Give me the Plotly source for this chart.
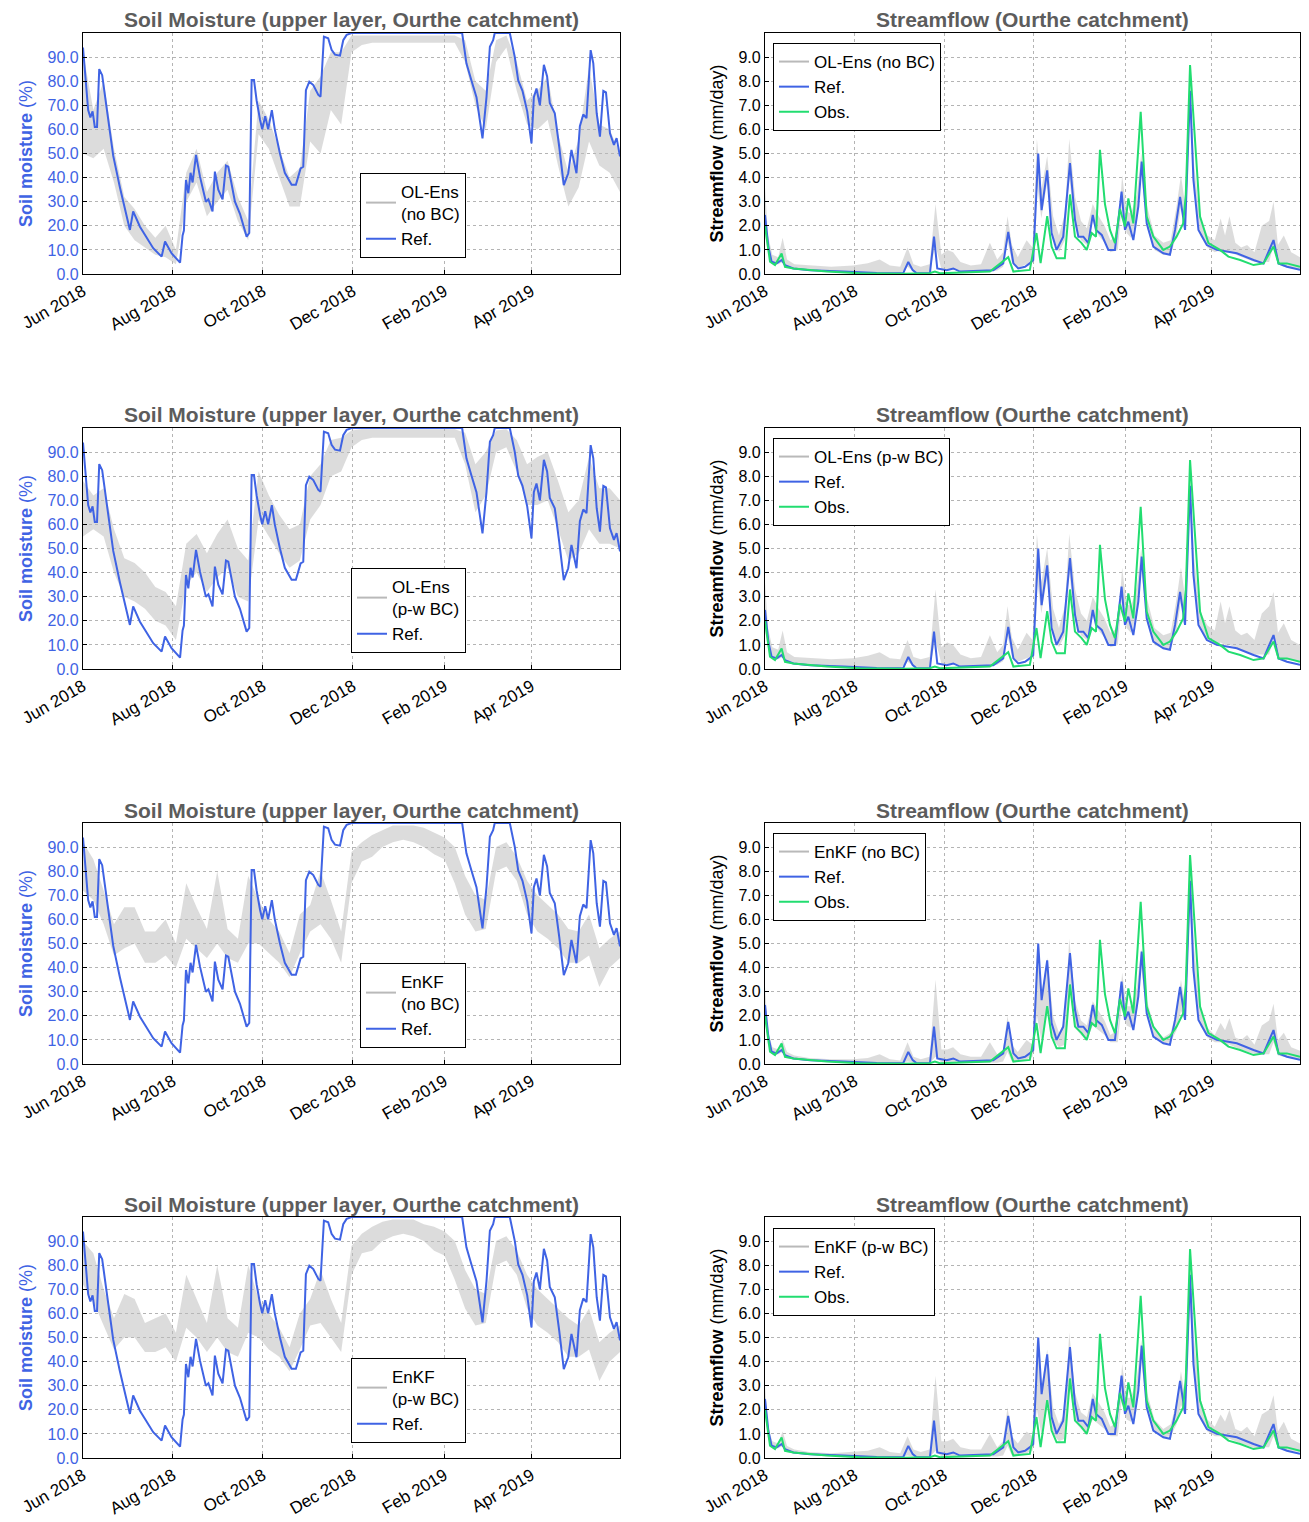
import plotly.graph_objects as go
import pandas as pd

START = pd.Timestamp("2018-06-01")
END = pd.Timestamp("2019-05-31")

# ---------------- Soil moisture: reference (days since 1 Jun 2018, %) ----------------
sm_ref_day = [0, 3.5, 5, 6.5, 8, 9.5, 11, 13, 16, 18, 20.5, 25, 31.8, 34, 38.6, 47.6, 53.3, 55.6, 60, 65.8,
              67.5, 68.4, 69.8, 71.4, 72.9, 74.3, 76.6, 79.3, 83.3, 85, 87.8, 89.4, 91.7, 94.6, 96.9, 98.5,
              103, 106.4, 110.9, 112.7, 114.3, 115.9, 117.7, 120, 121.5, 123.5, 125.5, 128, 130, 133.5,
              136.8, 141.4, 144.3, 145.9, 147.5, 149.3, 151.1, 153.4, 156.1, 159.5, 161, 163.3, 166.2,
              168.5, 170.8, 174.2, 176.4, 178.7, 182, 257, 259.9, 263.3, 266.7, 270.8, 273.5, 275.8, 278,
              279.1, 289.3, 292.7, 295, 297.9, 301.1, 304, 305.6, 307.4, 309.7, 312.4, 314.6, 316.4, 319.8,
              322.8, 325.9, 328.9, 331.1, 334.5, 336.8, 339.1, 341.3, 344.1, 345.9, 348.2, 350.4, 352.7,
              354.5, 357.2, 359.9, 361.7, 364]
sm_ref_val = [94, 68, 65, 67.5, 61, 61, 85, 82.5, 69, 60, 49, 36, 18.3, 26, 19.6, 10.7, 7.2, 13.5, 8.6, 4.7,
              16, 18, 39, 33.5, 42, 38, 49.4, 40.4, 30, 31, 26, 42.5, 35, 31, 45, 44.5,
              30, 25, 15.5, 17, 80.5, 80.5, 72, 64, 60, 65.5, 60, 68, 60, 50,
              42, 37, 37, 40.4, 43.8, 44.5, 76.3, 79.8, 78.4, 74.3, 73.6, 98.5, 97.8,
              93, 91, 90.6, 97, 99.2, 100, 100, 87.4, 80.3, 73.4, 56.3, 73.4, 94.3, 97,
              100, 100, 90, 80.3, 76, 67.5, 54.2, 73.4, 77, 70, 86.8, 82, 71, 66.7,
              52.8, 36.9, 41.8, 51.5, 41.8, 61.3, 66.2, 64.7, 92.9, 87.4, 66.7, 57, 76,
              75.4, 58.4, 53.6, 56.4, 48.8]

# ---------------- Soil moisture ensembles: weekly envelopes ----------------
sm_ens_day = [0, 7, 14, 21, 28, 35, 42, 49, 56, 63, 70, 77, 84, 91, 98, 105, 112, 119, 126, 133,
              140, 147, 154, 161, 168, 175, 182, 189, 196, 203, 210, 217, 224, 231, 238, 245, 252, 259,
              266, 273, 280, 287, 294, 301, 308, 315, 322, 329, 336, 343, 350, 357, 364]
sm_olnobc_lo = [50, 48, 52, 38, 20, 14, 11, 8, 7, 4, 30, 38, 24, 30, 35, 22, 14, 58, 52, 40,
                28, 28, 55, 50, 68, 62, 92, 95, 96, 96, 96, 96, 96, 96, 96, 96, 96, 88, 70, 60,
                88, 94, 76, 62, 60, 64, 45, 28, 36, 55, 45, 42, 34]
sm_olnobc_hi = [92, 68, 80, 52, 32, 27, 20, 15, 20, 10, 42, 52, 34, 42, 47, 32, 22, 72, 64, 52,
                40, 44, 76, 82, 92, 92, 99, 99, 99, 99, 99, 99, 99, 99, 99, 99, 99, 97, 80, 76,
                97, 99, 88, 72, 76, 82, 58, 42, 56, 86, 62, 60, 50]
sm_olpw_lo = [55, 58, 55, 40, 30, 28, 25, 20, 18, 12, 35, 40, 32, 38, 42, 30, 28, 62, 55, 48,
              42, 45, 62, 68, 80, 82, 92, 95, 96, 96, 96, 96, 96, 96, 96, 96, 96, 85, 65, 72,
              90, 92, 82, 68, 68, 70, 58, 45, 48, 58, 52, 52, 50]
sm_olpw_hi = [78, 72, 75, 58, 46, 44, 40, 34, 32, 26, 52, 56, 48, 56, 62, 50, 45, 82, 72, 64,
              58, 60, 80, 85, 95, 96, 99, 99.5, 99.5, 99.5, 99.5, 99.5, 99.5, 99.5, 99.5, 99.5, 99.5, 98, 85, 90,
              99, 99.5, 95, 85, 88, 90, 78, 65, 70, 88, 75, 75, 70]
sm_enkfnobc_lo = [72, 68, 58, 45, 48, 50, 42, 42, 45, 40, 52, 48, 44, 50, 44, 42, 50, 50, 46, 42,
                  36, 46, 55, 58, 52, 42, 75, 84, 86, 90, 92, 93, 92, 90, 87, 85, 75, 62, 55, 56,
                  80, 82, 76, 62, 55, 52, 48, 42, 42, 45, 32, 40, 44]
sm_enkfnobc_hi = [92, 85, 72, 58, 65, 65, 55, 55, 60, 50, 75, 65, 56, 80, 56, 52, 78, 68, 60, 55,
                  46, 62, 66, 80, 68, 55, 88, 92, 95, 97, 99, 99, 99, 98, 96, 94, 90, 78, 70, 68,
                  90, 92, 86, 76, 70, 66, 62, 56, 55, 62, 48, 52, 55]
sm_enkfpw_lo = [72, 65, 55, 45, 50, 50, 44, 44, 46, 40, 54, 50, 44, 50, 44, 42, 52, 50, 45, 42,
                36, 45, 55, 56, 50, 44, 76, 85, 86, 90, 92, 93, 92, 90, 86, 84, 74, 62, 55, 56,
                80, 82, 76, 62, 55, 52, 48, 42, 42, 45, 32, 40, 44]
sm_enkfpw_hi = [90, 85, 70, 58, 68, 66, 56, 58, 60, 52, 76, 66, 56, 80, 58, 54, 80, 66, 60, 54,
                46, 60, 66, 78, 66, 56, 88, 93, 96, 98, 99, 99, 99, 97, 96, 94, 90, 78, 70, 68,
                90, 92, 86, 76, 70, 66, 62, 58, 55, 62, 48, 52, 55]

# ---------------- Streamflow: reference and observation (mm/day) ----------------
sf_ref_day = [0, 2.3, 4.5, 7.9, 11.3, 13.6, 19.3, 30.6, 53.3, 76, 94, 97.5, 100.5, 103.2, 112.2, 115, 117.2,
              123.6, 128.1, 132.7, 155.3, 162.1, 165.5, 169, 172.3, 176.9, 180.3, 182.5, 185.9, 188.2,
              192, 195, 198.4, 202.9, 207.5, 210.9, 213.2, 216.6, 220, 223, 225.2, 229.1, 233.6, 238.1,
              242.6, 244.9, 247.2, 250.6, 254, 256.3, 259.7, 264.2, 271, 275.5, 279, 282.4, 285.8, 288,
              289.2, 291.5, 294.9, 300.6, 307.4, 314.2, 321, 332.4, 339.2, 346, 349.4, 355.1, 364]
sf_ref_val = [2.45, 1.13, 0.51, 0.44, 0.58, 0.37, 0.23, 0.16, 0.1, 0.04, 0.03, 0.5, 0.16, 0.03, 0.03, 1.55, 0.23,
              0.16, 0.23, 0.1, 0.16, 0.44, 1.75, 0.44, 0.23, 0.3, 0.45, 0.58, 5.0, 2.65,
              4.3, 1.7, 1.0, 1.55, 4.6, 2.25, 1.55, 1.55, 1.28, 2.45, 1.83, 1.62, 1.0, 1.0,
              3.42, 1.83, 2.17, 1.41, 2.8, 4.66, 2.1, 1.14, 0.86, 0.8, 1.83, 3.2, 1.83, 5.97,
              7.6, 3.9, 1.83, 1.2, 1.0, 0.93, 0.86, 0.58, 0.44, 1.41, 0.44, 0.3, 0.17]
sf_obs_day = [0, 3.4, 6.8, 11.3, 13.6, 19.3, 42, 64.6, 94, 112, 115.6, 119, 153, 165.5, 169, 180.2, 184.7,
              187.5, 192, 195, 198.4, 204, 207.5, 210.9, 215.4, 218.9, 222.3, 225.2, 227.9, 231.3,
              234.7, 238.1, 241.5, 244.9, 247.2, 250.6, 255.6, 259.7, 264.2, 271, 275.5, 280, 284.5,
              286.3, 289.2, 291.9, 296, 301.7, 309.6, 315.3, 323.3, 332.4, 339.2, 346, 349.4, 355.1, 364]
sf_obs_val = [2.0, 0.51, 0.37, 0.85, 0.3, 0.23, 0.1, 0.03, 0.01, 0.03, 0.1, 0.03, 0.1, 0.7, 0.1, 0.17, 1.7,
              0.45, 2.4, 1.14, 0.65, 0.65, 3.3, 1.55, 1.28, 1.0, 1.7, 1.55, 5.15, 2.9,
              1.83, 1.28, 2.7, 1.97, 3.14, 2.1, 6.73, 2.38, 1.55, 1.0, 1.14, 1.55, 2.1,
              3.3, 8.67, 5.97, 2.38, 1.28, 1.0, 0.72, 0.58, 0.37, 0.44, 1.14, 0.44, 0.44, 0.3]

# ---------------- Streamflow ensembles: envelopes ----------------
sf_ens_day = [0, 2, 5, 9, 12, 15, 20, 30, 45, 60,
              70, 78, 85, 92, 97, 101, 106, 112, 116, 120,
              124, 128, 133, 140, 147, 153, 158, 162, 165, 168,
              172, 178, 182, 185, 188, 192, 196, 200, 204, 207,
              211, 215, 219, 223, 227, 231, 235, 240, 243, 246,
              249, 253, 256, 260, 265, 271, 276, 280, 283, 286,
              289, 292, 296, 301, 306, 310, 313, 316, 320, 324,
              328, 333, 338, 343, 346, 349, 353, 358, 364]
sf_olnobc_lo = [1.6, 0.9, 0.45, 0.4, 0.5, 0.3, 0.2, 0.15, 0.1, 0.08,
                0.06, 0.05, 0.04, 0.03, 0.3, 0.1, 0.05, 0.05, 1.2, 0.2,
                0.15, 0.2, 0.1, 0.08, 0.08, 0.1, 0.15, 0.3, 1.4, 0.5,
                0.25, 0.4, 0.5, 3.8, 2.3, 3.8, 1.5, 0.9, 1.4, 4.0,
                2.0, 1.4, 1.2, 2.2, 1.6, 1.3, 0.9, 1.0, 3.0, 1.7,
                1.5, 2.3, 4.2, 1.9, 1.0, 0.8, 0.8, 1.6, 2.8, 1.8,
                7.0, 3.5, 1.6, 1.1, 0.9, 1.0, 0.9, 0.9, 0.8, 0.7,
                0.6, 0.5, 0.5, 0.5, 1.2, 0.4, 0.3, 0.25, 0.2]
sf_olnobc_hi = [3.6, 1.6, 0.8, 0.7, 1.5, 0.6, 0.4, 0.35, 0.3, 0.35,
                0.45, 0.6, 0.35, 0.3, 1.1, 0.4, 0.3, 0.4, 2.9, 0.8,
                1.0, 0.9, 0.5, 0.35, 0.4, 1.3, 0.6, 0.9, 2.4, 1.2,
                0.7, 1.4, 1.1, 5.6, 3.5, 4.9, 2.4, 1.6, 2.5, 5.6,
                3.2, 2.2, 1.9, 2.9, 2.4, 2.0, 1.4, 1.6, 4.1, 2.6,
                2.5, 3.3, 5.0, 2.8, 1.6, 1.3, 1.4, 2.8, 4.1, 2.8,
                8.2, 4.5, 2.3, 1.6, 1.4, 2.3, 1.6, 2.4, 1.3, 1.1,
                1.2, 0.9, 2.0, 2.2, 3.0, 1.2, 1.6, 0.9, 0.7]
sf_olpw_lo = [1.6, 0.9, 0.45, 0.4, 0.5, 0.3, 0.2, 0.15, 0.12, 0.1,
              0.08, 0.07, 0.05, 0.04, 0.3, 0.12, 0.06, 0.06, 1.2, 0.22,
              0.18, 0.22, 0.12, 0.1, 0.1, 0.12, 0.18, 0.32, 1.4, 0.55,
              0.3, 0.45, 0.55, 3.8, 2.3, 3.8, 1.5, 0.9, 1.4, 4.0,
              2.0, 1.4, 1.2, 2.2, 1.6, 1.3, 0.9, 1.0, 3.0, 1.7,
              1.5, 2.3, 4.2, 1.9, 1.0, 0.85, 0.85, 1.6, 2.8, 1.8,
              7.0, 3.5, 1.7, 1.2, 1.0, 1.1, 1.0, 1.0, 0.9, 0.8,
              0.7, 0.6, 0.6, 0.6, 1.3, 0.5, 0.4, 0.35, 0.3]
sf_olpw_hi = [3.6, 1.7, 0.9, 0.8, 1.6, 0.7, 0.5, 0.45, 0.4, 0.45,
              0.55, 0.7, 0.45, 0.4, 1.2, 0.5, 0.4, 0.5, 3.3, 0.9,
              1.1, 1.0, 0.6, 0.45, 0.5, 1.4, 0.7, 1.0, 2.6, 1.3,
              0.8, 1.5, 1.2, 5.6, 3.6, 5.0, 2.5, 1.7, 2.6, 5.6,
              3.3, 2.3, 2.0, 3.0, 2.5, 2.1, 1.5, 1.7, 4.2, 2.7,
              2.6, 3.4, 5.0, 2.9, 1.7, 1.4, 1.5, 2.9, 4.2, 2.9,
              8.2, 4.6, 2.4, 1.8, 1.6, 2.8, 1.9, 2.6, 1.6, 1.4,
              1.5, 1.2, 2.3, 2.6, 3.2, 1.5, 1.9, 1.2, 1.0]
sf_enkfnobc_lo = [1.8, 0.8, 0.4, 0.4, 0.5, 0.25, 0.2, 0.13, 0.1, 0.05,
                  0.03, 0.03, 0.03, 0.02, 0.1, 0.05, 0.03, 0.03, 0.3, 0.05,
                  0.05, 0.05, 0.05, 0.05, 0.05, 0.05, 0.05, 0.1, 0.5, 0.1,
                  0.1, 0.2, 0.3, 2.0, 1.0, 2.2, 1.0, 0.7, 0.8, 3.2,
                  1.5, 1.2, 1.0, 1.6, 1.4, 1.2, 0.9, 0.9, 2.6, 1.6,
                  1.5, 2.2, 4.0, 2.0, 1.1, 0.85, 0.9, 1.4, 2.2, 1.8,
                  6.5, 3.6, 1.6, 1.1, 0.9, 0.9, 0.8, 0.8, 0.7, 0.6,
                  0.5, 0.4, 0.4, 0.4, 0.9, 0.35, 0.3, 0.25, 0.2]
sf_enkfnobc_hi = [3.2, 1.4, 0.7, 0.6, 1.0, 0.5, 0.35, 0.25, 0.2, 0.2,
                  0.25, 0.4, 0.2, 0.15, 0.9, 0.3, 0.2, 0.3, 3.5, 0.6,
                  0.6, 0.7, 0.4, 0.3, 0.3, 0.9, 0.4, 0.6, 2.0, 0.8,
                  0.5, 1.0, 0.8, 4.8, 2.8, 4.4, 2.0, 1.3, 1.8, 5.2,
                  2.6, 1.8, 1.6, 2.6, 2.2, 1.8, 1.2, 1.4, 3.8, 2.4,
                  2.4, 3.2, 4.8, 2.6, 1.5, 1.1, 1.3, 2.2, 3.5, 2.4,
                  8.4, 4.8, 2.4, 1.5, 1.2, 1.7, 1.4, 1.9, 1.1, 1.0,
                  1.2, 0.8, 1.6, 1.8, 2.5, 1.0, 1.3, 0.7, 0.55]
sf_enkfpw_lo = [1.8, 0.8, 0.4, 0.4, 0.5, 0.25, 0.2, 0.13, 0.1, 0.06,
                0.04, 0.04, 0.03, 0.03, 0.1, 0.05, 0.03, 0.03, 0.3, 0.06,
                0.06, 0.06, 0.05, 0.05, 0.05, 0.06, 0.06, 0.1, 0.5, 0.1,
                0.1, 0.2, 0.3, 2.0, 1.0, 2.2, 1.0, 0.7, 0.8, 3.2,
                1.5, 1.2, 1.0, 1.6, 1.4, 1.2, 0.9, 0.9, 2.6, 1.6,
                1.5, 2.2, 4.0, 2.0, 1.1, 0.85, 0.9, 1.4, 2.2, 1.8,
                6.5, 3.6, 1.6, 1.1, 0.9, 0.9, 0.8, 0.8, 0.7, 0.6,
                0.5, 0.4, 0.45, 0.45, 0.9, 0.4, 0.35, 0.3, 0.25]
sf_enkfpw_hi = [3.0, 1.3, 0.7, 0.6, 1.1, 0.5, 0.35, 0.25, 0.2, 0.25,
                0.3, 0.45, 0.25, 0.2, 0.9, 0.35, 0.25, 0.35, 3.4, 0.7,
                0.7, 0.8, 0.45, 0.35, 0.35, 1.0, 0.45, 0.7, 2.1, 0.9,
                0.6, 1.1, 0.9, 4.9, 2.9, 4.5, 2.1, 1.4, 1.9, 5.2,
                2.7, 1.9, 1.7, 2.7, 2.3, 1.9, 1.3, 1.5, 3.9, 2.5,
                2.5, 3.3, 4.9, 2.7, 1.6, 1.2, 1.4, 2.3, 3.6, 2.5,
                8.4, 4.9, 2.5, 1.6, 1.3, 1.8, 1.5, 2.0, 1.2, 1.1,
                1.3, 0.9, 1.8, 2.0, 2.6, 1.1, 1.5, 0.8, 0.6]

# ---------------- labels ----------------
sm_title = "Soil Moisture (upper layer, Ourthe catchment)"
sf_title = "Streamflow (Ourthe catchment)"
sm_ens_names = ["OL-Ens<br>(no BC)", "OL-Ens<br>(p-w BC)", "EnKF<br>(no BC)", "EnKF<br>(p-w BC)"]
sf_ens_names = ["OL-Ens (no BC)", "OL-Ens (p-w BC)", "EnKF (no BC)", "EnKF (p-w BC)"]
sm_ticks = [0, 10, 20, 30, 40, 50, 60, 70, 80, 90]
sf_ticks = [0, 1, 2, 3, 4, 5, 6, 7, 8, 9]

sm_ens = [(sm_olnobc_lo, sm_olnobc_hi), (sm_olpw_lo, sm_olpw_hi),
          (sm_enkfnobc_lo, sm_enkfnobc_hi), (sm_enkfpw_lo, sm_enkfpw_hi)]
sf_ens = [(sf_olnobc_lo, sf_olnobc_hi), (sf_olpw_lo, sf_olpw_hi),
          (sf_enkfnobc_lo, sf_enkfnobc_hi), (sf_enkfpw_lo, sf_enkfpw_hi)]


def dates(days):
    return [START + pd.Timedelta(days=float(d)) for d in days]


W, H = 1309, 1522
TOPS = [33, 428, 823, 1217]
PH = 241
COLX = [(83, 620), (765, 1300)]
FONT = "Liberation Sans, Arial, Helvetica, sans-serif"
BLUE = "#3f63e4"
GREEN = "#22dd70"
ENS_LINE = "rgba(185,185,185,1)"
FILL = "rgba(185,185,185,0.5)"
TITLE_GRAY = "#5c5c5c"
GRID = "#b4b4b4"

fig = go.Figure()
layout = dict(width=W, height=H, margin=dict(l=0, r=0, t=0, b=0, autoexpand=False),
              paper_bgcolor="white", plot_bgcolor="white",
              font=dict(family=FONT, size=15, color="black"),
              annotations=[])

for r in range(4):
    for c in range(2):
        n = 2 * r + c + 1
        sfx = "" if n == 1 else str(n)
        xa, ya, lg = "x" + sfx, "y" + sfx, "legend" + sfx
        x0, x1 = COLX[c]
        top = TOPS[r]
        ydom = [1 - (top + PH) / H, 1 - top / H]
        if c == 0:
            lo, hi = sm_ens[r]
            ed, name = dates(sm_ens_day), sm_ens_names[r]
        else:
            lo, hi = sf_ens[r]
            ed, name = dates(sf_ens_day), sf_ens_names[r]
        fig.add_trace(go.Scatter(x=ed, y=lo, mode="lines", line=dict(width=0), showlegend=False,
                                 hoverinfo="skip", xaxis=xa, yaxis=ya))
        fig.add_trace(go.Scatter(x=ed, y=hi, mode="lines", line=dict(width=0), fill="tonexty",
                                 fillcolor=FILL, showlegend=False, hoverinfo="skip", xaxis=xa, yaxis=ya))
        fig.add_trace(go.Scatter(x=[None], y=[None], mode="lines", line=dict(color=ENS_LINE, width=2),
                                 name=name, legend=lg, xaxis=xa, yaxis=ya))
        if c == 0:
            fig.add_trace(go.Scatter(x=dates(sm_ref_day), y=sm_ref_val, mode="lines",
                                     line=dict(color=BLUE, width=2), name="Ref.", legend=lg,
                                     xaxis=xa, yaxis=ya))
        else:
            fig.add_trace(go.Scatter(x=dates(sf_ref_day), y=sf_ref_val, mode="lines",
                                     line=dict(color=BLUE, width=2), name="Ref.", legend=lg,
                                     xaxis=xa, yaxis=ya))
            fig.add_trace(go.Scatter(x=dates(sf_obs_day), y=sf_obs_val, mode="lines",
                                     line=dict(color=GREEN, width=2), name="Obs.", legend=lg,
                                     xaxis=xa, yaxis=ya))

        layout["xaxis" + sfx] = dict(
            domain=[x0 / W, x1 / W], anchor=ya, type="date", range=[START, END], automargin=False,
            tick0="2018-06-01", dtick="M2", tickformat="%b %Y", tickangle=-30,
            tickfont=dict(size=17, color="black"), showgrid=True, gridcolor=GRID,
            griddash="dot", gridwidth=1, showline=True, linecolor="black", linewidth=1.2,
            mirror=True, ticks="inside", ticklen=4, tickcolor="black", zeroline=False)
        if c == 0:
            layout["yaxis" + sfx] = dict(
                domain=ydom, anchor=xa, range=[0, 100], tickvals=sm_ticks, tickformat=".1f",
                automargin=False,
                tickfont=dict(size=16, color=BLUE), showgrid=True, gridcolor=GRID,
                griddash="dot", showline=True, linecolor="black", linewidth=1.2, mirror=True,
                ticks="inside", ticklen=4, tickcolor="black", zeroline=False,
                title=dict(text="<b>Soil moisture</b> (%)", font=dict(size=18, color=BLUE), standoff=10))
            layout[lg] = dict(x=466 / W, y=1 - (258 + r * 395) / H, xanchor="right", yanchor="bottom",
                              bgcolor="white", bordercolor="black", borderwidth=1, traceorder="normal",
                              font=dict(size=17, color="black"), itemwidth=30)
            ttl = sm_title
        else:
            layout["yaxis" + sfx] = dict(
                domain=ydom, anchor=xa, range=[0, 10], tickvals=sf_ticks, tickformat=".1f",
                automargin=False,
                tickfont=dict(size=16, color="black"), showgrid=True, gridcolor=GRID,
                griddash="dot", showline=True, linecolor="black", linewidth=1.2, mirror=True,
                ticks="inside", ticklen=4, tickcolor="black", zeroline=False,
                title=dict(text="<b>Streamflow</b> (mm/day)", font=dict(size=18, color="black"), standoff=10))
            layout[lg] = dict(x=773 / W, y=1 - (43 + r * 395) / H, xanchor="left", yanchor="top",
                              bgcolor="white", bordercolor="black", borderwidth=1, traceorder="normal",
                              font=dict(size=17, color="black"), itemwidth=30)
            ttl = sf_title
        layout["annotations"].append(dict(
            text="<b>" + ttl + "</b>", x=(x0 + x1) / 2 / W, y=1 - (top - 13) / H, xref="paper", yref="paper",
            xanchor="center", yanchor="middle", showarrow=False,
            font=dict(size=21, color=TITLE_GRAY, family=FONT)))

fig.update_layout(**layout)
fig.write_html("out.html", config={"displayModeBar": False},
               post_script="document.body.style.margin='0';document.body.style.overflow='hidden';")
